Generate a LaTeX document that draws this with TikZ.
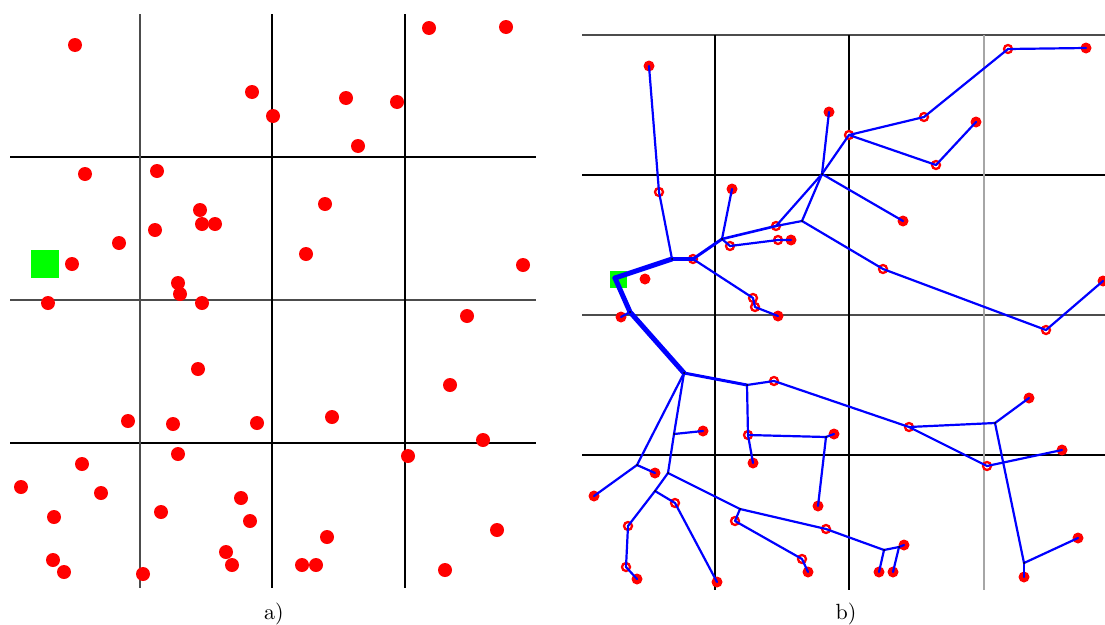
\documentclass[tikz,border=0pt]{standalone}
\usepackage{fontspec}
\begin{document}
\begin{tikzpicture}[x=1pt,y=-1pt,
  gthick/.style={black,line width=2pt},
  gthin/.style={black!70,line width=1.1pt},
  glight/.style={black!35,line width=2pt},
  ldot/.style={circle,fill=red,inner sep=0pt,minimum size=14pt},
  fdot/.style={circle,fill=red,inner sep=0pt,minimum size=11pt},
  rdot/.style={circle,draw=red,fill=white,line width=2.3pt,inner sep=0pt,minimum size=8pt},
  edge/.style={blue,line width=2.2pt,line cap=round,line join=round},
  jdot/.style={circle,fill=black,inner sep=0pt,minimum size=2pt},
  sink/.style={fill=green,inner sep=0pt,minimum size=#1},
  caption/.style={anchor=base,scale=2.2,inner sep=0pt}
]
\useasboundingbox (0,0) rectangle (1105,624);

% ---------- panel a) grid ----------
\draw[gthick] (10,157) -- (536,157);
\draw[gthin]  (10,300) -- (536,300);
\draw[gthick] (10,443) -- (536,443);
\draw[gthin]  (140,14) -- (140,588);
\draw[gthick] (272,14) -- (272,588);
\draw[gthick] (405,14) -- (405,588);

\node[sink=28pt] (sa) at (45,264) {};
\foreach [count=\i] \x/\y in {75/45,252/92,273/116,85/174,157/171,200/210,202/224,215/224,155/230,119/243,
  72/264,178/283,180/294,48/303,202/303,429/28,506/27,346/98,397/102,358/146,
  325/204,306/254,523/265,198/369,128/421,173/424,257/423,178/454,82/464,21/487,
  101/493,54/517,161/512,241/498,250/521,53/560,64/572,143/574,226/552,232/565,
  467/316,450/385,332/417,483/440,408/456,327/537,302/565,316/565,497/530,445/570}
  \node[ldot] (a\i) at (\x,\y) {};

\node[caption] (la) at (274,619) {a)};

% ---------- panel b) grid ----------
\draw[gthin]  (582,35) -- (1105,35);
\draw[gthick] (582,175) -- (1105,175);
\draw[gthin]  (582,315) -- (1105,315);
\draw[gthick] (582,455) -- (1105,455);
\draw[gthick] (715,35) -- (715,590);
\draw[gthick] (849,35) -- (849,590);
\draw[glight] (984,35) -- (984,590);

\node[sink=17pt] (sb) at (618.5,279) {};

% leaves
\node[fdot] (f1) at (649,66) {};
\node[fdot] (f2) at (645,279) {};
\node[fdot] (f3) at (732,189) {};
\node[fdot] (f4) at (791,240) {};
\node[fdot] (f5) at (829,112) {};
\node[fdot] (f6) at (778,316) {};
\node[fdot] (f7) at (621,317) {};
\node[fdot] (f8) at (1086,48) {};
\node[fdot] (f9) at (976,122) {};
\node[fdot] (f10) at (903,221) {};
\node[fdot] (f11) at (1103,281) {};
\node[fdot] (f12) at (1029,398) {};
\node[fdot] (f13) at (1062,450) {};
\node[fdot] (f14) at (1078,538) {};
\node[fdot] (f15) at (1024,577) {};
\node[fdot] (f16) at (904,545) {};
\node[fdot] (f17) at (879,572) {};
\node[fdot] (f18) at (893,572) {};
\node[fdot] (f19) at (834,434) {};
\node[fdot] (f20) at (703,431) {};
\node[fdot] (f21) at (753,463) {};
\node[fdot] (f22) at (818,506) {};
\node[fdot] (f23) at (655,473) {};
\node[fdot] (f24) at (594,496) {};
\node[fdot] (f25) at (717,582) {};
\node[fdot] (f26) at (637,579) {};
\node[fdot] (f27) at (808,572) {};

% rings
\node[rdot] (r1) at (659,192) {};
\node[rdot] (r2) at (693,259) {};
\node[rdot] (r3) at (730,246) {};
\node[rdot] (r4) at (776,226) {};
\node[rdot] (r5) at (778,240) {};
\node[rdot] (r6) at (753,298) {};
\node[rdot] (r7) at (755,307) {};
\node[rdot] (r8) at (849,135) {};
\node[rdot] (r9) at (924,117) {};
\node[rdot] (r10) at (1008,49) {};
\node[rdot] (r11) at (936,165) {};
\node[rdot] (r12) at (883,269) {};
\node[rdot] (r13) at (1046,330) {};
\node[rdot] (r14) at (909,427) {};
\node[rdot] (r15) at (987,466) {};
\node[rdot] (r16) at (774,381) {};
\node[rdot] (r17) at (748,435) {};
\node[rdot] (r18) at (675,503) {};
\node[rdot] (r19) at (628,526) {};
\node[rdot] (r20) at (626,567) {};
\node[rdot] (r21) at (735,521) {};
\node[rdot] (r22) at (802,559) {};
\node[rdot] (r23) at (826,529) {};

% junctions
\coordinate (j0) at (615,278);
\coordinate (j1) at (672,259);
\coordinate (j2) at (722,239);
\coordinate (j3) at (802,221);
\coordinate (j4) at (822,174);
\coordinate (j5) at (630,312);
\coordinate (j6) at (684,373);
\coordinate (j7) at (747,385);
\coordinate (j8) at (674,434);
\coordinate (j9) at (826,437);
\coordinate (j10) at (637,465);
\coordinate (j11) at (668,473);
\coordinate (j12) at (655,491);
\coordinate (j13) at (740,509);
\coordinate (j14) at (995,423);
\coordinate (j15) at (1024,563);
\coordinate (j16) at (884,550);
\coordinate (j17) at (899,547);

% trunk
\draw[edge,line width=5pt] (j0) -- (j1);
\draw[edge,line width=4pt] (j1) -- (r2.center);
\draw[edge,line width=3pt] (r2.center) -- (j2);
\draw[edge,line width=5pt] (j0) -- (j5) -- (j6);
\draw[edge,line width=3pt] (j6) -- (j7);
% upper branches
\draw[edge] (j1) -- (r1.center) -- (f1.center);
\draw[edge] (r2.center) -- (r6.center) -- (r7.center) -- (f6.center);
\draw[edge] (j2) -- (f3.center);
\draw[edge] (j2) -- (r3.center) -- (r5.center) -- (f4.center);
\draw[edge,line width=2.6pt] (j2) -- (r4.center);
\draw[edge] (r4.center) -- (j4);
\draw[edge] (r4.center) -- (j3) -- (j4);
\draw[edge] (j3) -- (r12.center) -- (r13.center) -- (f11.center);
\draw[edge] (j4) -- (f5.center);
\draw[edge] (j4) -- (f10.center);
\draw[edge] (j4) -- (r8.center) -- (r9.center) -- (r10.center) -- (f8.center);
\draw[edge] (r8.center) -- (r11.center) -- (f9.center);
% lower branches
\draw[edge] (j5) -- (f7.center);
\draw[edge] (j7) -- (r16.center) -- (r14.center);
\draw[edge] (j7) -- (r17.center) -- (f21.center);
\draw[edge] (r17.center) -- (j9) -- (f22.center);
\draw[edge] (j9) -- (f19.center);
\draw[edge] (j6) -- (j10) -- (f24.center);
\draw[edge] (j10) -- (f23.center);
\draw[edge] (j6) -- (j8) -- (j11);
\draw[edge] (j8) -- (f20.center);
\draw[edge] (j11) -- (j12) -- (r19.center) -- (r20.center) -- (f26.center);
\draw[edge] (j12) -- (r18.center) -- (f25.center);
\draw[edge] (j11) -- (j13) -- (r23.center) -- (j16);
\draw[edge] (j13) -- (r21.center) -- (r22.center) -- (f27.center);
\draw[edge] (j16) -- (f17.center);
\draw[edge] (j16) -- (j17) -- (f16.center);
\draw[edge] (j17) -- (f18.center);
\draw[edge] (r14.center) -- (j14) -- (f12.center);
\draw[edge] (j14) -- (j15) -- (f14.center);
\draw[edge] (j15) -- (f15.center);
\draw[edge] (r14.center) -- (r15.center) -- (f13.center);

% junction marks
\foreach \j in {j1,j2,j3,j4,j5,j6,j7,j8,j9,j10,j11,j12,j13,j14,j15,j16,j17}
  \node[jdot] at (\j) {};

\node[caption] (lb) at (846,619) {b)};
\end{tikzpicture}
\end{document}
